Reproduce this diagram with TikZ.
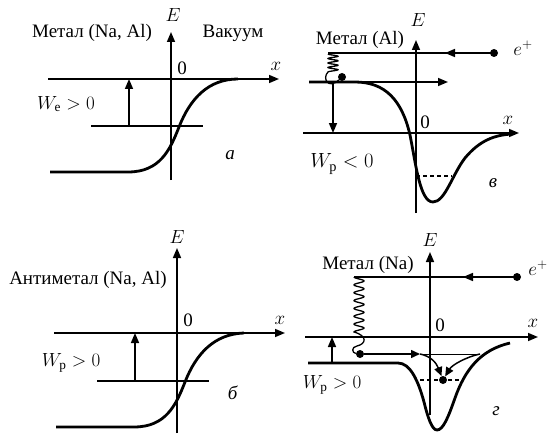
\RequirePackage{fix-cm}
\documentclass[tikz,border=0pt]{standalone}
\usepackage{fontspec}
\setmainfont{Liberation Serif}
\usetikzlibrary{arrows.meta}
\begin{document}
\begin{tikzpicture}[x=1pt,y=-1pt,
  font=\fontsize{19}{22}\selectfont,
  ax/.style={line width=1.6pt},
  arr/.style={line width=1.6pt,-{Triangle[length=10pt,width=8pt]}},
  sarr/.style={line width=1.5pt,-{Triangle[length=9pt,width=8pt]}},
  crv/.style={line width=2.8pt},
  thin line/.style={line width=1pt},
  dash line/.style={line width=1.3pt,dash pattern=on 4pt off 3pt},
  spring/.style={line width=1.3pt},
  dotn/.style={circle,fill,inner sep=0pt,minimum size=8pt},
  lbl/.style={inner sep=1pt}]
\useasboundingbox (0,0) rectangle (549,436);

% ---------------- panel a ----------------
\coordinate (aE0) at (171,180); \coordinate (aE1) at (171,32);
\draw[arr] (aE0) -- (aE1);
\coordinate (aX0) at (48,79); \coordinate (aX1) at (279,79);
\draw[arr] (aX0) -- (aX1);
\coordinate (aL0) at (91,126); \coordinate (aL1) at (203,126);
\draw[ax] (aL0) -- (aL1);
\coordinate (aA0) at (129,126); \coordinate (aA1) at (129,79);
\draw[arr] (aA0) -- (aA1);
\draw[crv] (50,172) -- (128,172) .. controls (160,172) and (170,150) .. (179,127)
  .. controls (190,99) and (208,79) .. (238,79);
\node[lbl] (aMet) at (92,33) {Метал (Na, Al)};
\node[lbl] (aVac) at (233,33) {Вакуум};
\node[lbl] (aE) at (173,15) {$E$};
\node[lbl] (a0) at (182,68) {0};
\node[lbl] (ax) at (276,66) {$x$};
\node[lbl] (aW) at (66,104) {$W_{\mathrm{e}} > 0$};
\node[lbl] (aa) at (230,155) {\textit{а}};

% ---------------- panel b ----------------
\coordinate (bE0) at (177,433); \coordinate (bE1) at (177,248);
\draw[arr] (bE0) -- (bE1);
\coordinate (bX0) at (54,333); \coordinate (bX1) at (285,333);
\draw[arr] (bX0) -- (bX1);
\coordinate (bL0) at (97,381); \coordinate (bL1) at (209,381);
\draw[ax] (bL0) -- (bL1);
\coordinate (bA0) at (135,381); \coordinate (bA1) at (135,333);
\draw[arr] (bA0) -- (bA1);
\begin{scope}[shift={(6,255)}]
\draw[crv] (50,172) -- (128,172) .. controls (160,172) and (170,150) .. (179,127)
  .. controls (190,99) and (208,79) .. (238,78);
\end{scope}
\node[lbl] (bMet) at (88,280) {Антиметал (Na, Al)};
\node[lbl] (bE) at (177,237) {$E$};
\node[lbl] (b0) at (188,320) {0};
\node[lbl] (bx) at (280,320) {$x$};
\node[lbl] (bW) at (71,363) {$W_{\mathrm{р}} > 0$};
\node[lbl] (bb) at (233,393) {\textit{б}};

% ---------------- panel v ----------------
\coordinate (vE0) at (416,213); \coordinate (vE1) at (416,40);
\draw[arr] (vE0) -- (vE1);
\coordinate (vX0) at (303,133); \coordinate (vX1) at (519,133);
\draw[arr] (vX0) -- (vX1);
\coordinate (vT0) at (328,53);
\node[dotn] (vpos) at (494,53) {};
\coordinate (vTa) at (445,53);
\draw[ax] (vT0) -- (vpos.center);
\draw[arr] (vpos) -- (vTa);
\coordinate (vM0) at (309,82); \coordinate (vM1) at (448,82);
\draw[arr] (vM0) -- (vM1);
\coordinate (vD0) at (333,82); \coordinate (vD1) at (333,133);
\draw[arr] (vD0) -- (vD1);
\draw[crv] (309,82) -- (355,82) .. controls (385,82) and (402,100) .. (410,135)
  .. controls (416,165) and (420,202) .. (433,202)
  .. controls (445,202) and (452,175) .. (465,158)
  .. controls (480,140) and (495,135) .. (512,134);
\coordinate (vd0) at (416,176); \coordinate (vd1) at (452,176);
\draw[dash line] (vd0) -- (vd1);
\node[dotn] (vel) at (342,77) {};
\draw[spring] plot[domain=0:1,samples=80,smooth] ({333-5*cos(4*360*\x)},{54+18*\x})
  .. controls (322,78) and (328,90) .. (vel);
\node[lbl] (vMet) at (360,40) {Метал (Al)};
\node[lbl] (vE) at (418,20) {$E$};
\node[lbl] (vep) at (523,48) {$e^{+}$};
\node[lbl] (v0) at (425,122) {0};
\node[lbl] (vx) at (508,120) {$x$};
\node[lbl, font=\fontsize{20.5}{24}\selectfont] (vW) at (342,164) {$W_{\mathrm{р}} < 0$};
\node[lbl] (vv) at (493,183) {\textit{в}};

% ---------------- panel g ----------------
\coordinate (gE0) at (430,415); \coordinate (gE1) at (430,252);
\draw[arr] (gE0) -- (gE1);
\coordinate (gX0) at (305,337); \coordinate (gX1) at (538,337);
\draw[arr] (gX0) -- (gX1);
\coordinate (gT0) at (354,277);
\node[dotn] (gpos) at (517,277) {};
\coordinate (gTa) at (463,277);
\draw[ax] (gT0) -- (gpos.center);
\draw[arr] (gpos) -- (gTa);
\coordinate (gU0) at (332,363); \coordinate (gU1) at (332,337);
\draw[arr] (gU0) -- (gU1);
\draw[crv] (308,363) -- (398,363) .. controls (410,363) and (418,380) .. (424,402)
  .. controls (428,418) and (432,430) .. (437,430)
  .. controls (443,430) and (448,418) .. (455,398)
  .. controls (465,370) and (480,350) .. (510,343);
\node[dotn] (gel) at (360,354) {};
\node[dotn] (gdot) at (443,380) {};
\coordinate (gH0) at (420,354); \coordinate (gH1) at (480,354);
\draw[sarr] (gel) -- (gH0);
\draw[thin line] (gH0) -- (gH1);
\draw[sarr] (gH0) .. controls (430,356) and (436,362) .. (gdot);
\draw[sarr] (gH1) .. controls (466,357) and (452,365) .. (gdot);
\coordinate (gd0) at (420,380); \coordinate (gd1) at (463,380);
\draw[dash line] (gd0) -- (gd1);
\draw[spring] plot[domain=0:1,samples=160,smooth] ({359-5*cos(7*360*\x)},{277+55*\x})
  .. controls (368,336) and (366,344) .. (357,346)
  .. controls (351,347) and (352,353) .. (gel);
\node[lbl] (gMet) at (368,265) {Метал (Na)};
\node[lbl] (gE) at (430,240) {$E$};
\node[lbl] (gep) at (538,268) {$e^{+}$};
\node[lbl] (g0) at (440,325) {0};
\node[lbl] (gx) at (533,323) {$x$};
\node[lbl] (gW) at (332,385) {$W_{\mathrm{р}} > 0$};
\node[lbl] (gg) at (496,411) {\textit{г}};
\end{tikzpicture}
\end{document}
